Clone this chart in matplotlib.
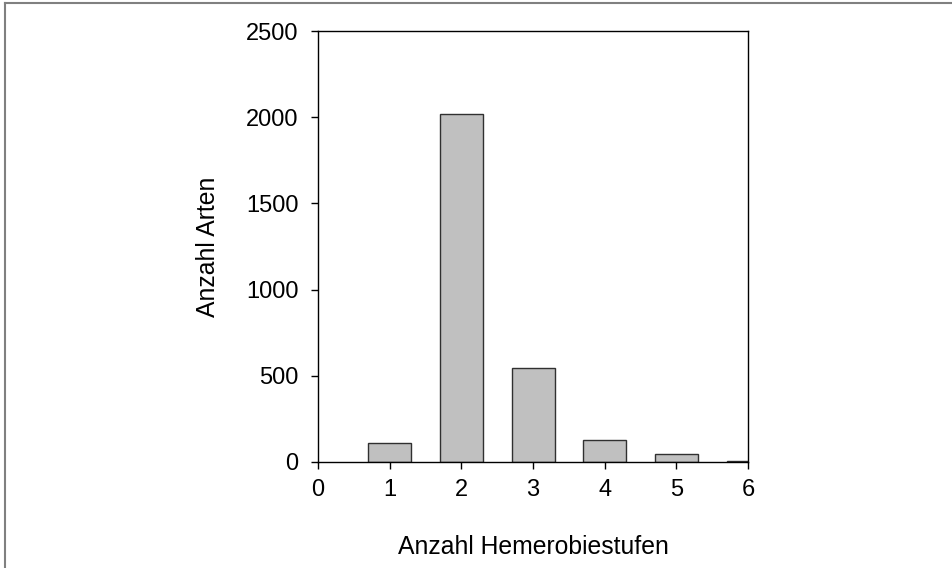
import matplotlib
matplotlib.use("Agg")
import matplotlib.pyplot as plt
from matplotlib.lines import Line2D

plt.rcParams['font.family'] = ['Liberation Sans', 'DejaVu Sans']

categories = [1, 2, 3, 4, 5, 6]
values = [112, 2018, 543, 130, 44, 5]
xticks = [0, 1, 2, 3, 4, 5, 6]
yticks = [0, 500, 1000, 1500, 2000, 2500]

fig = plt.figure(figsize=(9.53, 5.68), dpi=100)
ax = fig.add_axes([318/953, 1-462/568, 430/953, 431/568])

ax.bar(categories, values, width=0.6, color='#c0c0c0', edgecolor='#303030', linewidth=1.0)
ax.set_xlim(0, 6)
ax.set_ylim(0, 2500)
ax.set_xticks(xticks)
ax.set_yticks(yticks)
ax.tick_params(direction='out', length=5, width=1, labelsize=17, color='black')
ax.tick_params(axis='y', pad=9)
ax.tick_params(axis='x', pad=7)
for s in ax.spines.values():
    s.set_linewidth(1)
    s.set_color('black')

ax.set_xlabel('Anzahl Hemerobiestufen', fontsize=17.8)
ax.set_ylabel('Anzahl Arten', fontsize=17.8)
ax.xaxis.set_label_coords(0.5, -(547-462)/431, transform=ax.transAxes)
ax.yaxis.set_label_coords(-(318-208)/430, 0.5, transform=ax.transAxes)
ax.xaxis.label.set_va('center')
ax.yaxis.label.set_va('center')

# frame around figure (left and top edges visible)
fig.add_artist(Line2D([5/953, 5/953], [0, 1-3/568], transform=fig.transFigure, color='#808080', lw=1.5))
fig.add_artist(Line2D([5/953, 1], [1-3/568, 1-3/568], transform=fig.transFigure, color='#808080', lw=1.5))

fig.savefig('out.png', dpi=100)
